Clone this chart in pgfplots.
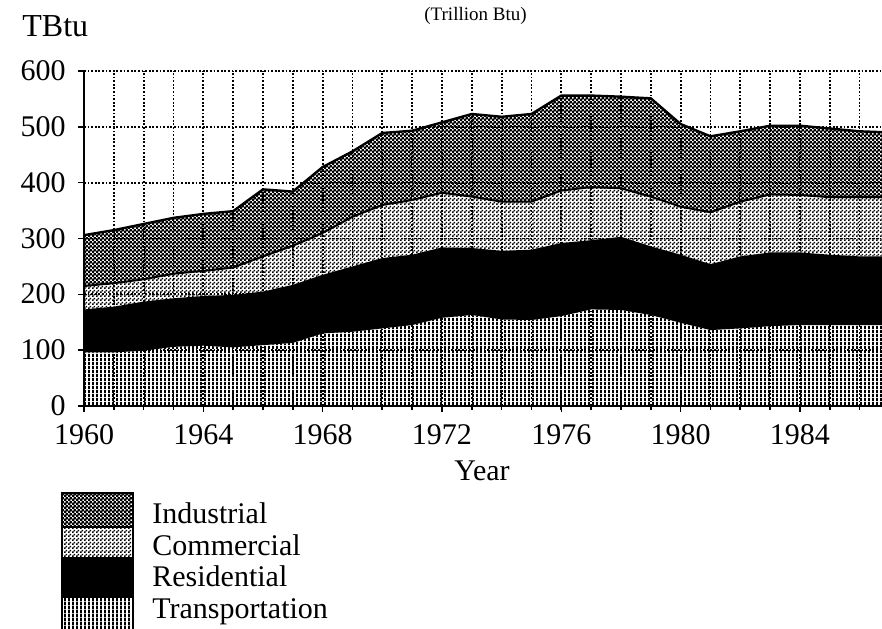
\documentclass[border=0pt]{standalone}
\usepackage{pgfplots}
\pgfplotsset{compat=1.18}
\usepackage{pgfplotstable}
\usepackage{fontspec}
\setmainfont{Liberation Serif}
\usetikzlibrary{patterns}

\pgfdeclarepatternformonly{vlines}{\pgfqpoint{0pt}{0pt}}{\pgfqpoint{2pt}{2pt}}{\pgfqpoint{2pt}{2pt}}%
{\pgfpathrectangle{\pgfqpoint{0pt}{0pt}}{\pgfqpoint{1.1pt}{2pt}}\pgfusepath{fill}}
\pgfdeclarepatternformonly{inddots}{\pgfqpoint{0pt}{0pt}}{\pgfqpoint{2pt}{2pt}}{\pgfqpoint{2pt}{2pt}}%
{\pgfpathrectangle{\pgfqpoint{0pt}{0pt}}{\pgfqpoint{1.4pt}{1.4pt}}\pgfpathrectangle{\pgfqpoint{1pt}{1pt}}{\pgfqpoint{1.4pt}{1.4pt}}\pgfusepath{fill}}
\pgfdeclarepatternformonly{comdots}{\pgfqpoint{0pt}{0pt}}{\pgfqpoint{2pt}{2pt}}{\pgfqpoint{2pt}{2pt}}%
{\pgfpathrectangle{\pgfqpoint{0pt}{0pt}}{\pgfqpoint{0.95pt}{0.95pt}}\pgfpathrectangle{\pgfqpoint{1pt}{1pt}}{\pgfqpoint{0.95pt}{0.95pt}}\pgfusepath{fill}}

\pgfplotstableread{
year T R C I
1960 96 77 42 91
1961 96 82 42 95
1962 99 88 40 99
1963 106 87 44 100
1964 108 89 45 102
1965 105 94 49 101
1966 109 96 63 120
1967 113 104 70 97
1968 130 105 75 118
1969 133 117 89 117
1970 139 126 95 129
1971 145 126 98 124
1972 158 126 98 126
1973 163 120 92 148
1974 155 123 88 152
1975 154 126 86 157
1976 161 131 94 170
1977 173 124 95 164
1978 172 131 87 164
1979 163 123 89 176
1980 149 122 86 148
1981 136 118 93 136
1982 139 129 98 126
1983 143 132 104 123
1984 145 130 103 124
1985 145 126 103 123
1986 145 123 106 118
1987 145 123 106 116
}\energy

\begin{document}
\begin{tikzpicture}
\useasboundingbox (-42pt,-111pt) rectangle (399pt,203pt);
\begin{axis}[
  at={(0pt,0pt)}, anchor=south west,
  scale only axis, width=399pt, height=167.5pt,
  xmin=1960, xmax=1986.75, ymin=0, ymax=600,
  axis x line*=bottom, axis y line*=left,
  axis line style={-, line width=1pt, black},
  xtick={1960,1964,1968,1972,1976,1980,1984},
  xticklabels={1960,1964,1968,1972,1976,1980,1984},
  minor xtick={1961,1962,...,1986},
  ytick={0,100,200,300,400,500,600},
  yticklabels={0,100,200,300,400,500,600},
  grid=both,
  major grid style={black, line width=0.9pt, dash pattern=on 0.9pt off 0.9pt},
  minor grid style={black, line width=0.9pt, dash pattern=on 0.9pt off 0.9pt},
  tick align=outside,
  major tick length=3pt, minor tick length=2pt,
  tick style={black, line width=0.8pt},
  ticklabel style={font=\fontsize{15}{15}\selectfont, inner sep=0pt},
  xticklabel style={anchor=base, yshift=-16pt},
  yticklabel style={anchor=base east, xshift=-6pt, yshift=-4.75pt},
  stack plots=y,
  clip=true,
]
\addplot[draw=none, pattern=vlines] table[x=year, y=T] {\energy} \closedcycle;
\addplot[draw=none, fill=black] table[x=year, y=R] {\energy} \closedcycle;
\addplot[draw=none, pattern=comdots] table[x=year, y=C] {\energy} \closedcycle;
\addplot[draw=none, pattern=inddots] table[x=year, y=I] {\energy} \closedcycle;
\addplot[stack plots=false, black, line width=1pt] table[x=year, y expr=\thisrow{T}+\thisrow{R}+\thisrow{C}] {\energy};
\addplot[stack plots=false, black, line width=1.2pt] table[x=year, y expr=\thisrow{T}+\thisrow{R}+\thisrow{C}+\thisrow{I}] {\energy};
\end{axis}
% titles
\node[anchor=base west, inner sep=0pt, font=\fontsize{16}{16}\selectfont] at (-31pt,185pt) {TBtu};
\node[anchor=base, inner sep=0pt, font=\fontsize{9.5}{10}\selectfont] at (195.75pt,193pt) {(Trillion Btu)};
\node[anchor=base, inner sep=0pt, font=\fontsize{15}{15}\selectfont] at (199pt,-37pt) {Year};
% legend
\fill[pattern=inddots] (-11pt,-43.5pt) rectangle (24.5pt,-60.5pt);
\fill[pattern=comdots] (-11pt,-60.5pt) rectangle (24.5pt,-75.5pt);
\fill[black] (-11pt,-75.5pt) rectangle (24.5pt,-96pt);
\fill[pattern=vlines] (-11pt,-96pt) rectangle (24.5pt,-115pt);
\draw[line width=1pt] (-11pt,-115pt) -- (-11pt,-43.5pt) -- (24.5pt,-43.5pt) -- (24.5pt,-115pt);
\draw[line width=1pt] (-11pt,-60.5pt) -- (24.5pt,-60.5pt);
\begin{scope}[every node/.style={anchor=base west, inner sep=0pt, font=\fontsize{15}{16}\selectfont}]
\node at (34pt,-58.5pt) {Industrial};
\node at (34pt,-74.5pt) {Commercial};
\node at (34pt,-90pt) {Residential};
\node at (34pt,-106pt) {Transportation};
\end{scope}
\end{tikzpicture}
\end{document}
